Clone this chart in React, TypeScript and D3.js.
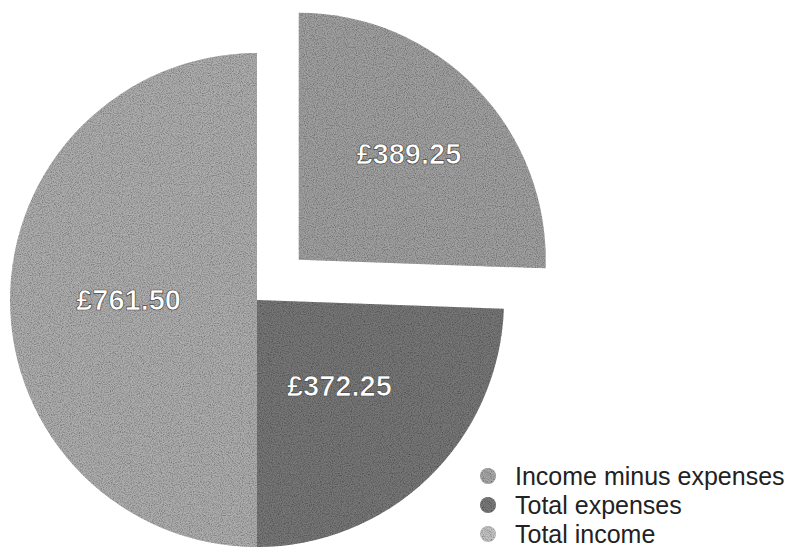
import React from "react";
import * as d3 from "d3";

const categories = ["Income minus expenses", "Total expenses", "Total income"];
const values = [389.25, 372.25, 761.5];
const valueLabels = ["£389.25", "£372.25", "£761.50"];
const sliceColors = ["#a0a0a0", "#777777", "#adadad"];
const legendColors = ["#a8a8a8", "#7a7a7a", "#c4c4c4"];
const explode = [58, 0, 0];
const labelFrac = [0.62, 0.48, 0.52];

const W = 790;
const H = 548;
const cx = 257;
const cy = 300;
const R = 247;

export default function App() {
  const pie = d3
    .pie<number>()
    .sort(null)
    .startAngle(0)
    .endAngle(2 * Math.PI)
    .value((d) => d);
  const arcs = pie(values);
  const arc = d3.arc<d3.PieArcDatum<number>>().innerRadius(0).outerRadius(R);

  return (
    <svg
      width={W}
      height={H}
      style={{ position: "absolute", left: 0, top: 0, background: "#fff" }}
      fontFamily="'Liberation Sans', Arial, sans-serif"
    >
      <defs>
        <filter id="grain" x="0" y="0" width="100%" height="100%">
          <feTurbulence type="fractalNoise" baseFrequency="0.9" numOctaves="2" seed="3" result="noise" />
          <feColorMatrix
            in="noise"
            type="matrix"
            values="0 0 0 0 0  0 0 0 0 0  0 0 0 0 0  0 0 0 -1.2 0.75"
            result="dark"
          />
          <feComposite in="dark" in2="SourceGraphic" operator="in" result="darkIn" />
          <feMerge>
            <feMergeNode in="SourceGraphic" />
            <feMergeNode in="darkIn" />
          </feMerge>
        </filter>
      </defs>
      <g transform={`translate(${cx},${cy})`}>
        {arcs.map((a, i) => {
          const mid = (a.startAngle + a.endAngle) / 2;
          const ox = Math.sin(mid) * explode[i];
          const oy = -Math.cos(mid) * explode[i];
          const lr = R * labelFrac[i];
          const lx = ox + Math.sin(mid) * lr;
          const ly = oy - Math.cos(mid) * lr;
          return (
            <g key={categories[i]}>
              <path
                d={arc(a) || ""}
                transform={`translate(${ox},${oy})`}
                fill={sliceColors[i]}
                filter="url(#grain)"
              />
              <text
                x={lx}
                y={ly}
                dy="0.36em"
                textAnchor="middle"
                fill="#fff"
                stroke="#444"
                strokeWidth={0.7}
                fontSize={29}
                fontWeight={700}
              >
                {valueLabels[i]}
              </text>
            </g>
          );
        })}
      </g>
      <g transform="translate(488,476)">
        {categories.map((c, i) => (
          <g key={c} transform={`translate(0,${i * 29})`}>
            <circle r={8} fill={legendColors[i]} filter="url(#grain)" />
            <text x={27} y={0} dy="0.36em" fontSize={25} fill="#222">
              {c}
            </text>
          </g>
        ))}
      </g>
    </svg>
  );
}
